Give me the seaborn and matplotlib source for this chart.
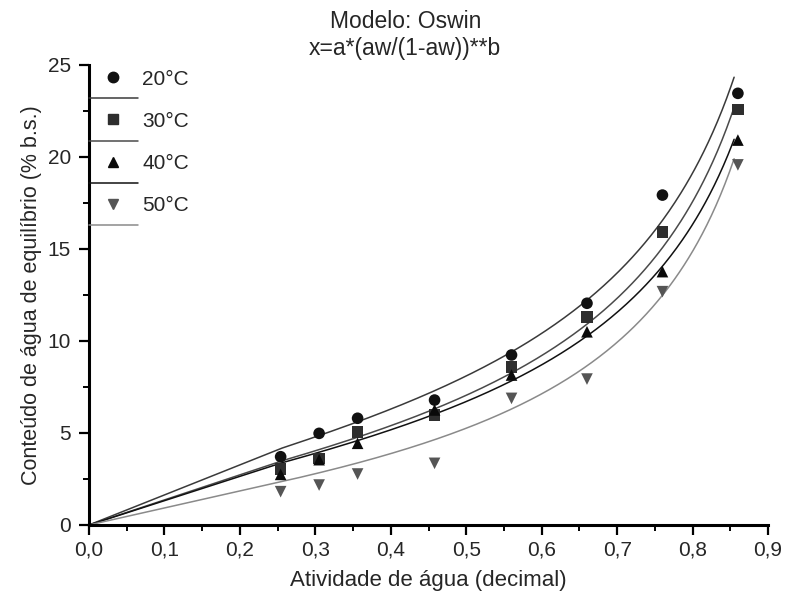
import numpy as np
import pandas as pd
import matplotlib
matplotlib.use('Agg')
import matplotlib.pyplot as plt
import seaborn as sns
from matplotlib.ticker import MultipleLocator, FixedLocator, FixedFormatter
from matplotlib.lines import Line2D

# water activity (x) and equilibrium moisture (y)
aw = [0.254, 0.305, 0.356, 0.458, 0.560, 0.660, 0.760, 0.860]
temps = ['20°C', '30°C', '40°C', '50°C']
x_20 = [3.71, 4.98, 5.80, 6.79, 9.24, 12.05, 17.93, 23.46]
x_30 = [3.05, 3.62, 5.07, 5.98, 8.60, 11.32, 15.94, 22.59]
x_40 = [2.75, 3.55, 4.44, 6.25, 8.15, 10.50, 13.77, 20.92]
x_50 = [1.81, 2.17, 2.77, 3.35, 6.88, 7.93, 12.68, 19.57]

# Oswin parameters estimated from the drawn curves
oswin_a = [8.10, 7.05, 6.71, 5.26]
oswin_b = [0.620, 0.659, 0.642, 0.750]
aw_curve_max = 0.855

xticks = [0.0, 0.1, 0.2, 0.3, 0.4, 0.5, 0.6, 0.7, 0.8, 0.9]
xtick_labels = ['0,0', '0,1', '0,2', '0,3', '0,4', '0,5', '0,6', '0,7', '0,8', '0,9']
yticks = [0, 5, 10, 15, 20, 25]

markers = {'20°C': 'o', '30°C': 's', '40°C': '^', '50°C': 'v'}
mcolors = {'20°C': '#111111', '30°C': '#2e2e2e', '40°C': '#0a0a0a', '50°C': '#555555'}
lcolors = {'20°C': '#3a3a3a', '30°C': '#4a4a4a', '40°C': '#111111', '50°C': '#8a8a8a'}

pts = pd.DataFrame({
    'aw': aw * 4,
    'x': x_20 + x_30 + x_40 + x_50,
    'T': [t for t in temps for _ in aw],
})

# curve joined straight from the origin to the first measured aw, like the original
grid = np.concatenate([[0.0], np.linspace(aw[0], aw_curve_max, 300)])
curves = pd.concat([
    pd.DataFrame({'aw': grid, 'x': a * (grid / (1 - grid)) ** b, 'T': t})
    for t, a, b in zip(temps, oswin_a, oswin_b)
])

sns.set_style('ticks')
plt.rcParams['font.family'] = ['Liberation Sans', 'DejaVu Sans']

fig = plt.figure(figsize=(7.98, 5.93), dpi=100)
ax = fig.add_axes([0.1115, 0.1147, 0.851, 0.7757])

sns.lineplot(data=curves, x='aw', y='x', hue='T', palette=lcolors, linewidth=1.1,
             legend=False, ax=ax, sort=False)
sns.scatterplot(data=pts, x='aw', y='x', hue='T', style='T', markers=markers,
                palette=mcolors, s=70, edgecolor='none', legend=False, ax=ax, zorder=3)

ax.set_xlim(0, 0.9)
ax.set_ylim(0, 25)
ax.xaxis.set_major_locator(FixedLocator(xticks))
ax.xaxis.set_major_formatter(FixedFormatter(xtick_labels))
ax.xaxis.set_minor_locator(MultipleLocator(0.05))
ax.yaxis.set_major_locator(FixedLocator(yticks))
ax.yaxis.set_minor_locator(MultipleLocator(2.5))
ax.tick_params(which='major', length=7, width=1.6, labelsize=15, direction='out', color='black', pad=4)
ax.tick_params(which='minor', length=4, width=1.4, direction='out', color='black')
ax.tick_params(axis='y', pad=6)
sns.despine(ax=ax)
for side in ['left', 'bottom']:
    ax.spines[side].set_linewidth(2.2)
    ax.spines[side].set_color('black')

ax.set_xlabel('Atividade de água (decimal)', fontsize=16, labelpad=8)
ax.set_ylabel('Conteúdo de água de equilíbrio (% b.s.)', fontsize=15.5, labelpad=4)

fig.text(0.509, 0.963, 'Modelo: Oswin', ha='center', va='center', fontsize=16.5)
fig.text(0.507, 0.918, 'x=a*(aw/(1-aw))**b', ha='center', va='center', fontsize=16.5)

handles = []
labels = []
for t in temps:
    handles.append(Line2D([], [], linestyle='none', marker=markers[t], color=mcolors[t], markersize=7.5))
    labels.append(t)
    handles.append(Line2D([], [], color=lcolors[t], linewidth=1.1))
    labels.append('')
ax.legend(handles, labels, loc='upper left', bbox_to_anchor=(0.0, 0.99), frameon=False,
          fontsize=15, handlelength=2.35, handletextpad=0.2, labelspacing=0.1,
          borderpad=0.0, borderaxespad=0.0)

fig.savefig('out.png', dpi=100)
